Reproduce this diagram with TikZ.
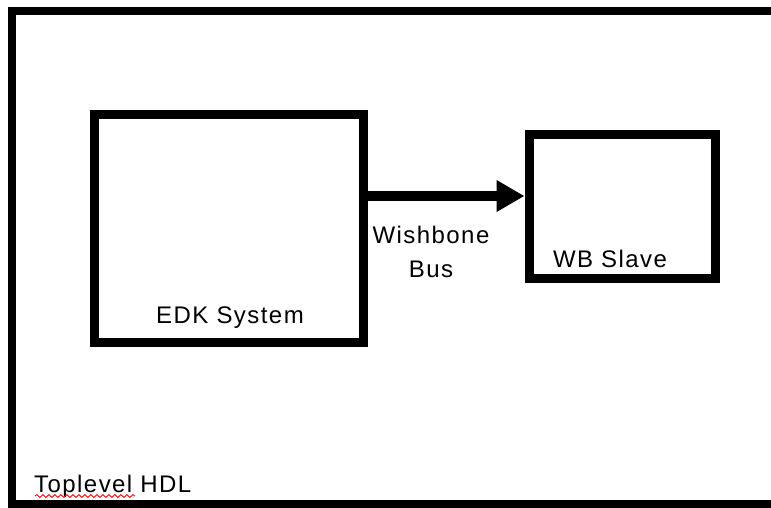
\documentclass[tikz,border=0pt]{standalone}
\usepackage{fontspec}
\setmainfont{Liberation Sans}[LetterSpace=6]
\usepackage{tikz}
\usetikzlibrary{arrows.meta, positioning, decorations.pathmorphing}

\begin{document}
\begin{tikzpicture}[x=1pt, y=-1pt,
    block/.style={draw=black, line width=9pt, inner sep=0pt, fill=white},
    lbl/.style={font=\fontsize{24}{34}\selectfont, inner sep=0pt, anchor=base},
    busarr/.style={-{Triangle[length=28pt, width=30pt]}, line width=10pt}
  ]
  \useasboundingbox (0,0) rectangle (771,507);
  % Toplevel frame
  \draw[line width=8pt] (11.5,10.5) rectangle (790,504);
  \node[lbl, anchor=base west] (top) at (34,492) {Toplevel HDL};
  \draw[red, line width=0.9pt, decorate,
    decoration={snake, amplitude=1.4pt, segment length=6pt}]
    (top.base west) ++(1,4) coordinate (sq) -- ++(100,0);
  % EDK system
  \node[block, minimum width=268.5pt, minimum height=228pt] (edk) at (228.75,228) {};
  \node[lbl] (edktxt) at (230,323) {EDK System};
  % WB slave
  \node[block, minimum width=186pt, minimum height=143.5pt] (wbs) at (622,206.25) {};
  \node[lbl] (wbstxt) at (610,267) {WB Slave};
  % bus
  \draw[busarr] (edk.east |- 0,196) -- (wbs.west |- 0,196);
  \node[lbl, align=center] (bus) at (431,277) {Wishbone\\Bus};
\end{tikzpicture}
\end{document}
